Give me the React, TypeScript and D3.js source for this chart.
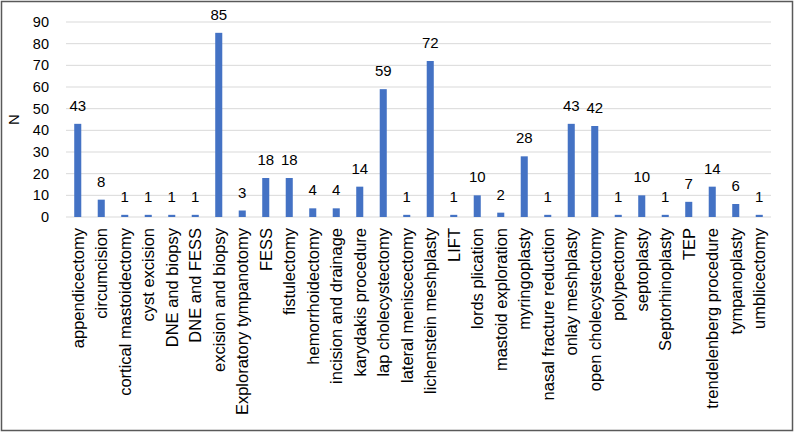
import React from "react";
import * as d3 from "d3";

const categories = [
  "appendicectomy", "circumcision", "cortical mastoidectomy", "cyst excision", "DNE and biopsy",
  "DNE and FESS", "excision and biopsy", "Exploratory tympanotomy", "FESS", "fistulectomy",
  "hemorrhoidectomy", "incision and drainage", "karydakis procedure", "lap cholecystectomy",
  "lateral meniscectomy", "lichenstein meshplasty", "LIFT", "lords plication", "mastoid exploration",
  "myringoplasty", "nasal fracture reduction", "onlay meshplasty", "open cholecystectomy",
  "polypectomy", "septoplasty", "Septorhinoplasty", "TEP", "trendelenberg procedure",
  "tympanoplasty", "umblicectomy",
];
const values = [43, 8, 1, 1, 1, 1, 85, 3, 18, 18, 4, 4, 14, 59, 1, 72, 1, 10, 2, 28, 1, 43, 42, 1, 10, 1, 7, 14, 6, 1];
const yTicks = [0, 10, 20, 30, 40, 50, 60, 70, 80, 90];

const W = 795, H = 433;
const FONT = "'Liberation Sans', Arial, sans-serif";

export default function App() {
  const x = d3.scaleBand<string>().domain(categories).range([66, 771]).paddingInner(0.7).paddingOuter(0.35);
  const y = d3.scaleLinear().domain([0, 90]).range([217, 22]);
  return (
    <svg width={W} height={H} style={{ position: "absolute", left: 0, top: 0 }}>
      <rect x={0} y={0} width={W} height={H} fill="#fff" />
      <rect x={1.5} y={1.5} width={W - 4} height={H - 4} fill="none" stroke="#595959" strokeWidth={1.5} />
      {yTicks.map((t) => (
        <g key={t}>
          <line x1={66} x2={771} y1={y(t)} y2={y(t)} stroke="#d9d9d9" strokeWidth={1} />
          <text x={49} y={y(t)} dy="0.35em" textAnchor="end" fontFamily={FONT} fontSize={14.5} fill="#000">{t}</text>
        </g>
      ))}
      <text transform={`translate(14,${y(45)}) rotate(-90)`} textAnchor="middle" dy="0.35em" fontFamily={FONT} fontSize={15} fill="#000">N</text>
      {categories.map((c, i) => (
        <g key={c}>
          <rect x={x(c)} y={y(values[i])} width={x.bandwidth()} height={y(0) - y(values[i])} fill="#4472C4" />
          <text x={(x(c) as number) + x.bandwidth() / 2} y={y(values[i]) - 13} textAnchor="middle" fontFamily={FONT} fontSize={15} fill="#000">{values[i]}</text>
          <text transform={`translate(${(x(c) as number) + x.bandwidth() / 2},228) rotate(-90)`} textAnchor="end" dy="0.35em" fontFamily={FONT} fontSize={16.5} fill="#000">{c}</text>
        </g>
      ))}
    </svg>
  );
}
